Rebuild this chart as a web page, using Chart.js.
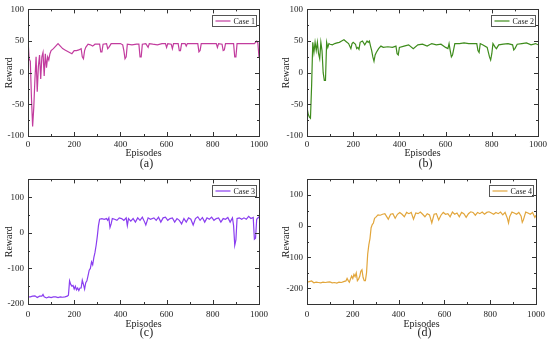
<!DOCTYPE html>
<html>
<head>
<meta charset="utf-8">
<script src="https://cdn.jsdelivr.net/npm/chart.js@4.4.1/dist/chart.umd.min.js"></script>
<style>
  body { margin: 0; background: #fff; }
  #wrap { position: relative; width: 550px; height: 339px; }
  .panel { position: absolute; }
</style>
</head>
<body>
<div id="wrap">
  <div class="panel" style="left:0;top:0"><canvas id="chartA" width="275" height="170"></canvas></div>
  <div class="panel" style="left:275px;top:0"><canvas id="chartB" width="275" height="170"></canvas></div>
  <div class="panel" style="left:0;top:170px"><canvas id="chartC" width="275" height="169"></canvas></div>
  <div class="panel" style="left:275px;top:170px"><canvas id="chartD" width="275" height="169"></canvas></div>
</div>
<script>
// valores (episódio, recompensa)
var episodes1 = [0,5,10,15,20,25,30,35,40,45,50,55,60,65,70,75,80,85,90,95,100,110,120,130,140,150,160,170,180,190,200,210,220,230,235,240,245,250,260,270,280,290,300,310,315,320,325,340,345,350,360,380,400,410,415,420,425,430,450,470,480,485,490,495,510,520,525,540,560,580,595,600,605,620,625,630,650,655,660,665,680,685,690,720,735,740,745,750,780,800,815,820,825,840,845,850,855,870,890,895,900,905,920,940,960,980,990,995,1000];
var reward1 = [52,22,18,-40,-85,-55,-10,25,-30,10,28,-10,25,32,-5,30,8,25,20,30,35,38,42,46,42,38,36,34,32,30,35,35,36,38,25,22,35,40,45,44,42,45,45,45,33,33,45,46,38,40,46,46,46,44,35,22,25,45,44,45,45,25,25,45,46,40,46,45,44,46,46,40,46,45,38,46,46,35,35,46,46,42,46,46,46,33,35,46,46,46,46,40,46,45,35,36,46,46,46,25,25,46,46,46,46,46,50,47,25];

var episodes2 = [0,5,10,15,20,25,30,35,40,45,50,55,60,65,70,75,80,85,90,95,100,110,120,130,140,150,160,170,180,190,195,200,210,215,220,225,230,240,250,260,265,270,275,280,285,290,295,300,310,320,330,350,370,385,390,395,400,420,440,460,480,500,520,540,560,580,600,610,615,620,625,630,640,660,680,700,720,735,740,745,750,760,780,790,795,800,805,815,820,830,850,870,890,895,900,910,930,950,970,990,1000];
var reward2 = [-55,-65,-70,-72,-20,48,32,48,35,48,30,22,48,35,0,-12,-12,48,40,46,45,44,46,47,48,50,52,49,46,38,46,48,45,38,40,37,48,50,44,50,48,50,42,35,25,18,28,32,38,42,40,41,40,42,30,28,40,42,44,38,44,45,42,46,44,45,40,38,46,35,25,28,46,46,47,46,46,46,35,32,46,44,40,25,20,30,46,40,38,44,45,46,44,36,38,45,46,47,44,46,44];

var episodes3 = [0,10,20,30,40,50,60,65,70,80,90,100,110,120,130,140,150,160,170,175,180,185,190,195,200,205,210,215,220,225,230,235,240,245,250,255,260,265,270,275,280,285,290,295,300,305,310,320,330,340,345,350,355,360,365,375,385,395,405,415,425,430,435,445,455,465,475,485,495,505,510,520,530,545,555,565,575,585,595,605,615,625,635,645,655,665,675,685,695,705,715,725,735,745,755,765,775,785,795,805,815,825,835,845,855,865,875,885,890,895,900,905,915,925,935,945,955,965,975,980,985,990,1000];
var reward3 = [-180,-180,-178,-177,-182,-178,-178,-173,-180,-183,-180,-182,-180,-180,-182,-180,-181,-180,-178,-175,-135,-145,-150,-148,-158,-150,-160,-155,-162,-155,-155,-133,-145,-158,-140,-135,-120,-105,-100,-82,-90,-70,-55,-35,-10,20,38,40,38,40,35,42,15,25,40,38,35,42,40,35,42,20,40,33,40,30,42,35,44,30,22,42,38,42,35,44,30,42,44,35,40,42,30,40,35,25,40,30,42,38,22,40,45,35,43,30,42,38,44,35,40,42,30,40,38,43,30,42,20,-35,-20,40,42,38,42,38,46,40,43,-18,-15,38,45];

var episodes4 = [0,10,20,30,40,50,60,70,80,90,100,110,120,130,140,150,160,170,175,180,185,190,195,200,205,210,215,220,225,230,235,240,245,250,255,260,265,270,275,280,285,290,295,300,310,320,330,340,350,355,365,375,385,395,405,415,425,435,445,455,465,475,485,495,505,515,525,535,545,555,565,575,585,595,605,615,625,635,645,655,665,675,685,695,705,715,725,735,745,755,765,775,785,795,805,815,825,835,845,855,865,875,880,885,895,905,915,925,935,940,945,955,965,975,985,995,1000];
var reward4 = [-180,-178,-176,-182,-180,-181,-182,-180,-181,-180,-179,-182,-181,-183,-180,-181,-178,-176,-168,-175,-180,-170,-160,-168,-155,-162,-150,-175,-170,-162,-145,-140,-165,-175,-175,-150,-90,-60,-40,-5,5,10,25,28,36,35,38,40,28,22,38,40,25,38,44,38,30,44,40,44,22,42,40,45,38,30,40,36,10,38,40,20,35,44,38,40,30,45,38,42,30,44,40,28,40,46,44,35,44,40,45,38,44,46,42,38,44,40,45,36,44,25,10,30,45,42,38,44,32,12,20,45,42,38,44,28,35];

var xTicksStep = 200;
var serif = "'Liberation Serif', 'DejaVu Serif', serif";

// moldura com marcas internas, legenda em caixa e legenda (a)/(b)...
var frameTicks = {
    id: 'frameTicks',
    afterDatasetsDraw: function (chart, args, opts) {
        var ctx = chart.ctx;
        var a = chart.chartArea;
        var xs = chart.scales.x, ys = chart.scales.y;
        ctx.save();
        ctx.strokeStyle = '#333';
        ctx.lineWidth = 1;
        ctx.strokeRect(Math.round(a.left) + 0.5, Math.round(a.top) + 0.5,
            Math.round(a.right - a.left), Math.round(a.bottom - a.top));

        ctx.beginPath();
        xs.ticks.forEach(function (t) {
            var vals = [[t.value, 4], [t.value + opts.minorX, 2]];
            vals.forEach(function (v) {
                if (v[0] > xs.max) return;
                var px = Math.round(xs.getPixelForValue(v[0])) + 0.5;
                ctx.moveTo(px, a.bottom); ctx.lineTo(px, a.bottom - v[1]);
                ctx.moveTo(px, a.top); ctx.lineTo(px, a.top + v[1]);
            });
        });
        ys.ticks.forEach(function (t) {
            var vals = [[t.value, 4], [t.value + opts.minorY, 2], [t.value - opts.minorY, 2]];
            vals.forEach(function (v) {
                if (v[0] > ys.max || v[0] < ys.min) return;
                var py = Math.round(ys.getPixelForValue(v[0])) + 0.5;
                ctx.moveTo(a.left, py); ctx.lineTo(a.left + v[1], py);
                ctx.moveTo(a.right, py); ctx.lineTo(a.right - v[1], py);
            });
        });
        ctx.stroke();

        // legenda
        var ds = chart.data.datasets[0];
        var bx = Math.round(a.right) - 46.5, by = Math.round(a.top) + 6.5;
        ctx.strokeStyle = '#555';
        ctx.strokeRect(bx, by, 44, 11);
        ctx.strokeStyle = ds.borderColor;
        ctx.lineWidth = 1.2;
        ctx.beginPath();
        ctx.moveTo(bx + 3, by + 5.5); ctx.lineTo(bx + 18, by + 5.5);
        ctx.stroke();
        ctx.fillStyle = '#222';
        ctx.font = '8px ' + serif;
        ctx.textAlign = 'left';
        ctx.textBaseline = 'middle';
        ctx.fillText(ds.label, bx + 21, by + 6);

        // legenda do painel
        ctx.font = '12px ' + serif;
        ctx.textAlign = 'center';
        ctx.fillText(opts.caption, (a.left + a.right) / 2 + 3, opts.captionY);
        ctx.restore();
    }
};

function plainLabel(v) { return String(v); }

function makeChart(id, episodes, rewards, label, color, cfg) {
    var points = episodes.map(function (e, i) { return { x: e, y: rewards[i] }; });
    var ctx = document.getElementById(id).getContext('2d');
    return new Chart(ctx, {
        type: 'line',
        data: {
            datasets: [{
                label: label,
                data: points,
                borderColor: color,
                borderWidth: 1.2,
                pointRadius: 0,
                tension: 0,
                fill: false
            }]
        },
        options: {
            responsive: false,
            animation: false,
            layout: { padding: { left: 0, right: cfg.right, top: cfg.top, bottom: cfg.bottom } },
            plugins: {
                legend: { display: false },
                tooltip: { enabled: false },
                frameTicks: { caption: cfg.caption, captionY: cfg.captionY, minorX: 100, minorY: cfg.minorY }
            },
            scales: {
                x: {
                    type: 'linear',
                    min: 0,
                    max: 1000,
                    grid: { display: false, drawTicks: false },
                    border: { display: false },
                    ticks: { stepSize: xTicksStep, padding: cfg.xPad, color: '#222', font: { family: serif, size: 9 }, maxRotation: 0, callback: plainLabel },
                    title: { display: true, text: 'Episodes', color: '#222', font: { family: serif, size: 10 }, padding: { top: 0, bottom: 0 } },
                    afterFit: function (s) { s.height = cfg.xHeight; }
                },
                y: {
                    min: cfg.yMin,
                    max: cfg.yMax,
                    grid: { display: false, drawTicks: false },
                    border: { display: false },
                    ticks: { stepSize: cfg.yStep, padding: 4, color: '#222', font: { family: serif, size: 9 }, callback: plainLabel },
                    title: { display: true, text: 'Reward', color: '#222', font: { family: serif, size: 10 }, padding: { top: cfg.titlePad, bottom: 0 } },
                    afterBuildTicks: function (s) {
                        var t = [];
                        for (var v = Math.ceil(s.min / cfg.yStep) * cfg.yStep; v <= s.max; v += cfg.yStep) t.push({ value: v });
                        s.ticks = t;
                    },
                    afterFit: function (s) { s.width = cfg.yWidth; }
                }
            }
        },
        plugins: [frameTicks]
    });
}

document.addEventListener('DOMContentLoaded', function () {
    makeChart('chartA', episodes1, reward1, 'Case 1', '#c23c9e', {
        yMin: -100, yMax: 100, yStep: 50, minorY: 25, yWidth: 28, titlePad: 3,
        right: 16, top: 7, bottom: 11, xHeight: 23, xPad: 3, caption: '(a)', captionY: 164
    });
    makeChart('chartB', episodes2, reward2, 'Case 2', '#3e8c1c', {
        yMin: -100, yMax: 100, yStep: 50, minorY: 25, yWidth: 32, titlePad: 5,
        right: 12, top: 7, bottom: 11, xHeight: 23, xPad: 3, caption: '(b)', captionY: 164
    });
    makeChart('chartC', episodes3, reward3, 'Case 3', '#8a3ef0', {
        yMin: -200, yMax: 150, yStep: 100, minorY: 50, yWidth: 28, titlePad: 3,
        right: 16, top: 5, bottom: 9, xHeight: 26, xPad: 5, caption: '(c)', captionY: 163
    });
    makeChart('chartD', episodes4, reward4, 'Case 4', '#e2a63c', {
        yMin: -250, yMax: 150, yStep: 100, minorY: 50, yWidth: 32, titlePad: 5,
        right: 12, top: 5, bottom: 9, xHeight: 26, xPad: 5, caption: '(d)', captionY: 163
    });
});
</script>
</body>
</html>
